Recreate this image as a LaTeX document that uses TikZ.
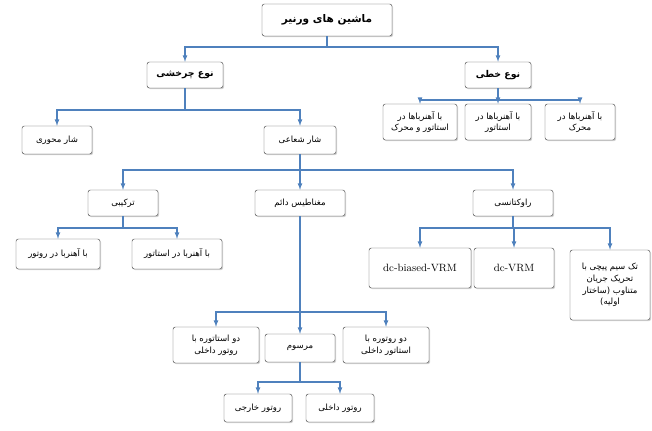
\documentclass[tikz,border=0pt]{standalone}
\usepackage{fontspec}
\newfontfamily\persian[Script=Arabic]{DejaVu Sans}
\TeXXeTstate=1
\newcommand{\fa}[1]{{\persian\beginR #1\endR}}
\usetikzlibrary{shadows}
\definecolor{linkblue}{HTML}{4F81BD}

\tikzset{
  box/.style={draw=black!70, rounded corners=2pt, fill=white, align=center,
    font=\fontsize{7.3}{10}\selectfont, drop shadow={opacity=0.35, shadow xshift=1pt, shadow yshift=-1pt}, inner sep=2pt},
  conn/.style={draw=linkblue, line width=0.9pt, -latex}
}

\begin{document}
\begin{tikzpicture}[x=0.03cm, y=-0.03cm]
  \useasboundingbox (0,0) rectangle (652,431);

  % Top level
  \node[box, minimum width=130*0.03cm, minimum height=32*0.03cm, font=\fontsize{9}{11}\selectfont\bfseries] (vernier) at (327,20) {\fa{ماشین های ورنیر}};

  % Rotary / linear
  \node[box, minimum width=76*0.03cm, minimum height=26*0.03cm, font=\fontsize{8}{10}\selectfont\bfseries] (rotary) at (185,75) {\fa{نوع چرخشی}};
  \node[box, minimum width=66*0.03cm, minimum height=26*0.03cm, font=\fontsize{8}{10}\selectfont\bfseries] (linear) at (498,75) {\fa{نوع خطی}};

  % Linear children
  \node[box, minimum width=74*0.03cm, minimum height=36*0.03cm] (linboth) at (420,122) {\fa{با آهنرباها در}\\\fa{استاتور و محرک}};
  \node[box, minimum width=66*0.03cm, minimum height=36*0.03cm] (linstat) at (498,122) {\fa{با آهنرباها در}\\\fa{استاتور}};
  \node[box, minimum width=70*0.03cm, minimum height=36*0.03cm] (linmov) at (580,122) {\fa{با آهنرباها در}\\\fa{محرک}};

  % Flux direction
  \node[box, minimum width=70*0.03cm, minimum height=28*0.03cm] (axial) at (57,140) {\fa{شار محوری}};
  \node[box, minimum width=72*0.03cm, minimum height=28*0.03cm] (radial) at (300,140) {\fa{شار شعاعی}};

  % Radial children
  \node[box, minimum width=70*0.03cm, minimum height=26*0.03cm] (hybrid) at (123,203) {\fa{ترکیبی}};
  \node[box, minimum width=90*0.03cm, minimum height=26*0.03cm] (pm) at (300,203) {\fa{مغناطیس دائم}};
  \node[box, minimum width=80*0.03cm, minimum height=26*0.03cm] (reluct) at (513,203) {\fa{راوکتانسی}};

  % Hybrid children
  \node[box, minimum width=84*0.03cm, minimum height=30*0.03cm] (hybrot) at (58,254) {\fa{با آهنربا در روتور}};
  \node[box, minimum width=90*0.03cm, minimum height=30*0.03cm] (hybstat) at (177,254) {\fa{با آهنربا در استاتور}};

  % Reluctance children
  \node[box, minimum width=102*0.03cm, minimum height=40*0.03cm, font=\fontsize{9}{11}\selectfont] (dcb) at (420,268) {dc-biased-VRM};
  \node[box, minimum width=80*0.03cm, minimum height=40*0.03cm, font=\fontsize{9}{11}\selectfont] (dcvrm) at (514,268) {dc-VRM};
  \node[box, minimum width=80*0.03cm, minimum height=70*0.03cm] (single) at (610,285) {\fa{تک سیم پیچی با}\\\fa{تحریک جریان}\\\fa{متناوب (ساختار}\\\fa{اولیه)}};

  % PM children
  \node[box, minimum width=86*0.03cm, minimum height=36*0.03cm] (dstat) at (216,345) {\fa{دو استاتوره با}\\\fa{روتور داخلی}};
  \node[box, minimum width=70*0.03cm, minimum height=28*0.03cm] (conv) at (300,348) {\fa{مرسوم}};
  \node[box, minimum width=86*0.03cm, minimum height=36*0.03cm] (drot) at (386,345) {\fa{دو روتوره با}\\\fa{استاتور داخلی}};

  % Conventional children
  \node[box, minimum width=68*0.03cm, minimum height=28*0.03cm] (outrot) at (258,408) {\fa{روتور خارجی}};
  \node[box, minimum width=68*0.03cm, minimum height=28*0.03cm] (inrot) at (340,408) {\fa{روتور داخلی}};

  % Bus levels
  \coordinate (b1) at (0,47);
  \coordinate (b2) at (0,100);
  \coordinate (b3) at (0,110);
  \coordinate (b4) at (0,170);
  \coordinate (b5) at (0,228);
  \coordinate (b6) at (0,228);
  \coordinate (b7) at (0,312);
  \coordinate (b8) at (0,382);

  % Connectors
  \foreach \p/\b/\c in {vernier/b1/rotary, vernier/b1/linear,
      linear/b2/linboth, linear/b2/linstat, linear/b2/linmov,
      rotary/b3/axial, rotary/b3/radial,
      radial/b4/hybrid, radial/b4/pm, radial/b4/reluct,
      hybrid/b5/hybrot, hybrid/b5/hybstat,
      reluct/b6/dcb, reluct/b6/dcvrm, reluct/b6/single,
      pm/b7/dstat, pm/b7/conv, pm/b7/drot,
      conv/b8/outrot, conv/b8/inrot}
    \draw[conn] (\p.south) -- (\p.south |- \b) -| (\c.north);
\end{tikzpicture}
\end{document}
